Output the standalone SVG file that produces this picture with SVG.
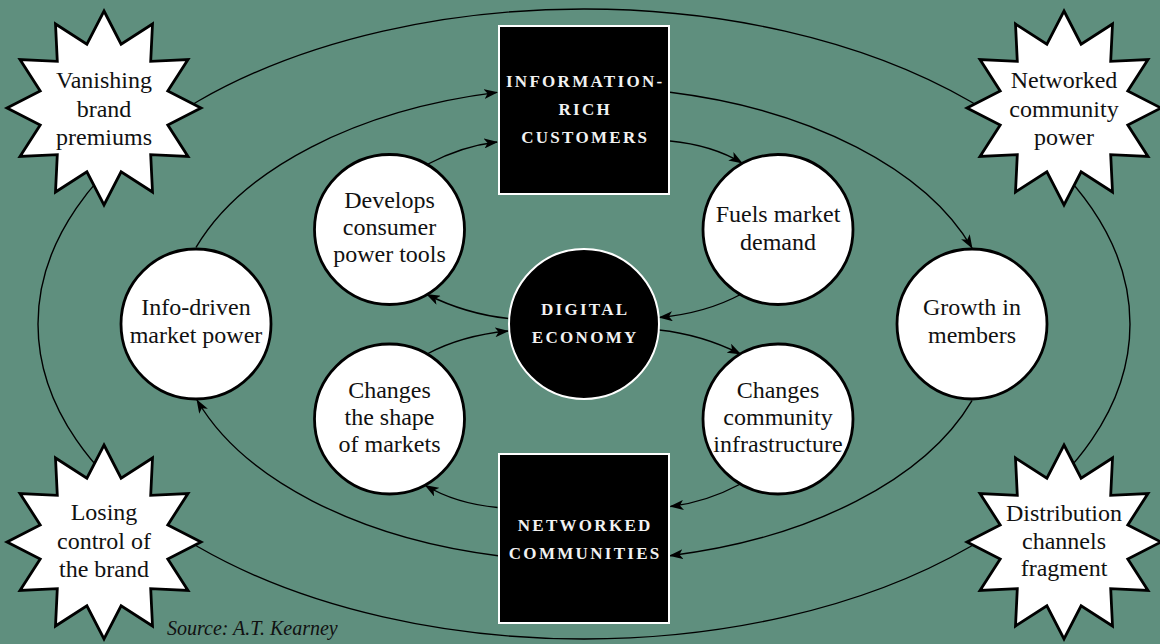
<svg xmlns="http://www.w3.org/2000/svg" xmlns:xlink="http://www.w3.org/1999/xlink" width="1160" height="644" viewBox="0 0 1160 644">
  <style>
    .bg { fill: #5f8f7e; }
    .link { fill: none; stroke: #000; stroke-width: 1.4; }
    .ring { fill: none; stroke: #000; stroke-width: 1.4; }
    .burst { fill: #fff; stroke: #000; stroke-width: 2.8; stroke-linejoin: miter; }
    .step { fill: #fff; stroke: #000; stroke-width: 2.8; }
    .hub { fill: #000; stroke: #fff; stroke-width: 2; }
    .label { font-family: "Liberation Serif", "Times New Roman", serif; font-size: 24px; fill: #111; text-anchor: middle; }
    .caps { font-family: "Liberation Serif", "Times New Roman", serif; font-size: 17px; font-weight: bold; fill: #f2f2f2; text-anchor: middle; letter-spacing: 2.3px; }
    .source { font-family: "Liberation Serif", "Times New Roman", serif; font-size: 20px; font-style: italic; fill: #111; }
  </style>
  <defs>
    <marker id="arrow" viewBox="0 0 14 10" refX="13" refY="5" markerWidth="14" markerHeight="10" markerUnits="userSpaceOnUse" orient="auto">
      <path d="M0,0 L14,5 L0,10 L3.5,5 Z" fill="#000"/>
    </marker>
    <polygon id="star" points="0,-97 17.1,-63.8 48.5,-84 46.7,-46.7 84,-48.5 63.8,-17.1 97,0 63.8,17.1 84,48.5 46.7,46.7 48.5,84 17.1,63.8 0,97 -17.1,63.8 -48.5,84 -46.7,46.7 -84,48.5 -63.8,17.1 -97,0 -63.8,-17.1 -84,-48.5 -46.7,-46.7 -48.5,-84 -17.1,-63.8"/>
  </defs>

  <rect class="bg" x="0" y="0" width="1160" height="644"/>

  <g id="connectors">
    <!-- outer ring through the four bursts -->
    <ellipse class="ring" cx="584" cy="324" rx="546" ry="315"/>
    <!-- middle ring -->
    <path class="link" d="M 196 247.4 A 410 237 0 0 1 497 92.4" marker-end="url(#arrow)"/>
    <path class="link" d="M 670 92.3 A 410 237 0 0 1 972 248" marker-end="url(#arrow)"/>
    <path class="link" d="M 972 400.6 A 410 237 0 0 1 670 555.7" marker-end="url(#arrow)"/>
    <path class="link" d="M 498 555.7 A 410 237 0 0 1 197 400" marker-end="url(#arrow)"/>
    <!-- upper inner loop -->
    <path class="link" d="M 427 164.5 Q 462 146 497 142" marker-end="url(#arrow)"/>
    <path class="link" d="M 670 141 Q 712 145 742 163" marker-end="url(#arrow)"/>
    <path class="link" d="M 740.5 294.5 Q 706 313 659.5 317.5" marker-end="url(#arrow)"/>
    <path class="link" d="M 508.5 318.5 Q 466 314 427 294.5" marker-end="url(#arrow)"/>
    <!-- lower inner loop -->
    <path class="link" d="M 659 330 Q 701.5 334.5 740.5 354" marker-end="url(#arrow)"/>
    <path class="link" d="M 740.5 484 Q 705.5 502.5 670.5 506.5" marker-end="url(#arrow)"/>
    <path class="link" d="M 427 354 Q 461.5 335.5 508 331" marker-end="url(#arrow)"/>
    <path class="link" d="M 497.5 507.5 Q 455.5 503.5 425.5 485.5" marker-end="url(#arrow)"/>
  </g>

  <!-- bursts -->
  <g id="vanishing-brand-premiums">
    <use href="#star" xlink:href="#star" class="burst" x="104" y="108"/>
    <text class="label" x="104" y="88">Vanishing</text>
    <text class="label" x="104" y="117">brand</text>
    <text class="label" x="104" y="145">premiums</text>
  </g>
  <g id="networked-community-power">
    <use href="#star" xlink:href="#star" class="burst" x="1064" y="108"/>
    <text class="label" x="1064" y="88">Networked</text>
    <text class="label" x="1064" y="117">community</text>
    <text class="label" x="1064" y="145">power</text>
  </g>
  <g id="losing-control">
    <use href="#star" xlink:href="#star" class="burst" x="104" y="542"/>
    <text class="label" x="104" y="520">Losing</text>
    <text class="label" x="104" y="548.5">control of</text>
    <text class="label" x="104" y="577">the brand</text>
  </g>
  <g id="distribution-channels">
    <use href="#star" xlink:href="#star" class="burst" x="1064" y="542"/>
    <text class="label" x="1064" y="521">Distribution</text>
    <text class="label" x="1064" y="548.5">channels</text>
    <text class="label" x="1064" y="576">fragment</text>
  </g>

  <!-- white process circles -->
  <g id="info-driven">
    <circle class="step" cx="196" cy="324" r="75"/>
    <text class="label" x="196" y="315">Info-driven</text>
    <text class="label" x="196" y="343">market power</text>
  </g>
  <g id="growth-in-members">
    <circle class="step" cx="972" cy="324" r="75"/>
    <text class="label" x="972" y="315">Growth in</text>
    <text class="label" x="972" y="343">members</text>
  </g>
  <g id="develops-tools">
    <circle class="step" cx="389.5" cy="229.5" r="75"/>
    <text class="label" x="389.5" y="208">Develops</text>
    <text class="label" x="389.5" y="235">consumer</text>
    <text class="label" x="389.5" y="262">power tools</text>
  </g>
  <g id="fuels-demand">
    <circle class="step" cx="778" cy="229.5" r="75"/>
    <text class="label" x="778" y="222">Fuels market</text>
    <text class="label" x="778" y="250">demand</text>
  </g>
  <g id="changes-markets">
    <circle class="step" cx="389.5" cy="419" r="75"/>
    <text class="label" x="389.5" y="397.5">Changes</text>
    <text class="label" x="389.5" y="424.5">the shape</text>
    <text class="label" x="389.5" y="451.5">of markets</text>
  </g>
  <g id="changes-infrastructure">
    <circle class="step" cx="778" cy="419" r="75"/>
    <text class="label" x="778" y="397.5">Changes</text>
    <text class="label" x="778" y="424.5">community</text>
    <text class="label" x="778" y="451.5">infrastructure</text>
  </g>

  <!-- black hubs -->
  <g id="information-rich-customers">
    <rect class="hub" x="499" y="26" width="170" height="168"/>
    <text class="caps" x="585.2" y="87">INFORMATION-</text>
    <text class="caps" x="585.2" y="115">RICH</text>
    <text class="caps" x="585.2" y="143">CUSTOMERS</text>
  </g>
  <g id="digital-economy">
    <circle class="hub" cx="584" cy="324" r="75"/>
    <text class="caps" x="585.2" y="315">DIGITAL</text>
    <text class="caps" x="585.2" y="343">ECONOMY</text>
  </g>
  <g id="networked-communities">
    <rect class="hub" x="499" y="454" width="170" height="169"/>
    <text class="caps" x="585.2" y="531">NETWORKED</text>
    <text class="caps" x="585.2" y="559">COMMUNITIES</text>
  </g>

  <text class="source" x="167" y="635">Source: A.T. Kearney</text>
</svg>
